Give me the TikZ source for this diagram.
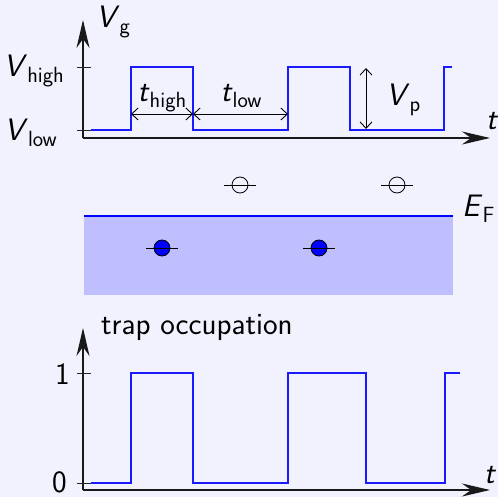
\documentclass[tikz,border=0pt]{standalone}
\usepackage{fontspec}
\usetikzlibrary{arrows.meta}
\definecolor{bg}{HTML}{F2F2FF}
\definecolor{wavecol}{HTML}{1A1AFF}
\definecolor{bandfill}{HTML}{BFBFFF}
\newcommand{\subtxt}[1]{\raisebox{-5.5pt}{\fontsize{22}{26}\selectfont\upshape #1}}
\begin{document}
\begin{tikzpicture}[x=1pt,y=-1pt,
  lbl/.style={font=\fontsize{31}{37}\selectfont\sffamily, inner sep=0pt, text=black},
  axis/.style={line width=1.2pt, draw=black!90, -{Stealth[length=28pt,width=13pt]}},
  wave/.style={line width=1.3pt, draw=wavecol},
  tickline/.style={line width=0.9pt, draw=black!85},
  dimarrow/.style={line width=0.9pt, draw=black, {Straight Barb[length=6.5pt,width=12pt]}-{Straight Barb[length=6.5pt,width=12pt]}},
  trap/.style={circle, draw=black, line width=0.8pt, minimum size=16pt, inner sep=0pt},
  emptytrap/.style={trap, fill=bg},
  filledtrap/.style={trap, fill=blue},
  trapline/.style={line width=0.8pt, draw=black},
]
\useasboundingbox[fill=bg] (0,0) rectangle (498,497);

% ---------- top plot: gate voltage ----------
\coordinate (o1) at (83,138);
\coordinate (yt1) at (83,20);
\coordinate (xt1) at (490,138);
\draw[axis] (o1) -- (yt1);
\draw[axis] (o1) -- (xt1);
\coordinate (th1a) at (77,67); \coordinate (th1b) at (91,67);
\coordinate (tl1a) at (77,130); \coordinate (tl1b) at (91,130);
\draw[tickline] (th1a) -- (th1b);
\draw[tickline] (tl1a) -- (tl1b);
\draw[wave] (91,130) -- (131,130) -- (131,67) -- (193,67) -- (193,130) -- (288,130)
  -- (288,67) -- (350,67) -- (350,130) -- (444,130) -- (444,67) -- (452,67);

\coordinate (d1) at (131,114);
\coordinate (d2) at (193,114);
\coordinate (d3) at (288,114);
\coordinate (vp1) at (366,68);
\coordinate (vp2) at (366,129);
\draw[dimarrow] (d1) -- (d2);
\draw[dimarrow] (d2) -- (d3);
\draw[dimarrow] (vp1) -- (vp2);

\node[lbl, anchor=base west] (vg) at (96,28) {\textit{V}\subtxt{g}};
\node[lbl, anchor=base east] (vhigh) at (64,77) {\textit{V}\subtxt{high}};
\node[lbl, anchor=base east] (vlow) at (57,141) {\textit{V}\subtxt{low}};
\node[lbl, anchor=base] (thigh) at (162,102) {\textit{t}\subtxt{high}};
\node[lbl, anchor=base] (tlow) at (241,102) {\textit{t}\subtxt{low}};
\node[lbl, anchor=base west] (vp) at (386,106) {\textit{V}\subtxt{p}};
\node[lbl, anchor=base west] (t1) at (486,130) {\textit{t}};

% ---------- middle: band and traps ----------
\fill[bandfill] (84,216) rectangle (453,295);
\coordinate (ef1) at (84,216);
\coordinate (ef2) at (453,216);
\draw[blue, line width=1.3pt] (ef1) -- (ef2);
\node[lbl, anchor=base west] (ef) at (462,217) {\textit{E}\subtxt{F}};

\node[emptytrap] (e1) at (240,185) {};
\node[emptytrap] (e2) at (397,185) {};
\node[filledtrap] (f1) at (162,248) {};
\node[filledtrap] (f2) at (319,248) {};
\foreach \n in {e1,e2,f1,f2}{
  \draw[trapline] ([xshift=-7.5pt]\n.west) -- ([xshift=7.5pt]\n.east);
}

% ---------- bottom plot: trap occupation ----------
\coordinate (o2) at (83,490);
\coordinate (yt2) at (83,328);
\coordinate (xt2) at (490,490);
\draw[axis] (o2) -- (yt2);
\draw[axis] (o2) -- (xt2);
\coordinate (k1a) at (77,373); \coordinate (k1b) at (91,373);
\coordinate (k0a) at (77,483); \coordinate (k0b) at (91,483);
\draw[tickline] (k1a) -- (k1b);
\draw[tickline] (k0a) -- (k0b);
\draw[wave] (91,483) -- (131,483) -- (131,373) -- (193,373) -- (193,483) -- (288,483)
  -- (288,373) -- (366,373) -- (366,483) -- (445,483) -- (445,373) -- (460,373);

\node[lbl, anchor=base west] (occ) at (101,334) {trap occupation};
\node[lbl, anchor=base east] (one) at (70,384) {1};
\node[lbl, anchor=base east] (zero) at (67,492) {0};
\node[lbl, anchor=base west] (t2) at (484,483) {\textit{t}};
\end{tikzpicture}
\end{document}
